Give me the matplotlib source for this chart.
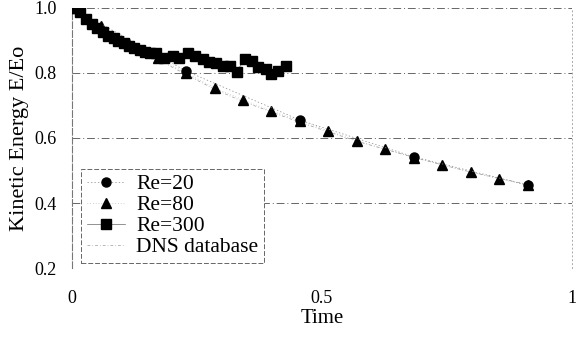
"""kinetic_energy_decay.py"""

import matplotlib
matplotlib.use("Agg")
import matplotlib.pyplot as plt

# Re=300 (squares)
t_re300 = [0.0, 0.016, 0.028, 0.040, 0.050, 0.062, 0.072, 0.084, 0.092, 0.104,
           0.114, 0.124, 0.136, 0.146, 0.156, 0.168, 0.184, 0.202, 0.214, 0.232,
           0.246, 0.261, 0.273, 0.287, 0.301, 0.315, 0.329, 0.345, 0.359, 0.371,
           0.387, 0.399, 0.413, 0.429]
e_re300 = [1.000, 0.988, 0.966, 0.951, 0.938, 0.926, 0.914, 0.908, 0.898, 0.892,
           0.883, 0.877, 0.871, 0.865, 0.862, 0.862, 0.846, 0.852, 0.846, 0.862,
           0.852, 0.843, 0.834, 0.831, 0.822, 0.822, 0.803, 0.843, 0.837, 0.818,
           0.812, 0.797, 0.806, 0.822]

# Re=80 (triangles)
t_re80 = [0.0, 0.057, 0.114, 0.171, 0.228, 0.285, 0.342, 0.399, 0.456, 0.513,
          0.570, 0.627, 0.684, 0.741, 0.798, 0.855, 0.912]
e_re80 = [1.000, 0.945, 0.890, 0.846, 0.800, 0.754, 0.717, 0.683, 0.652, 0.622,
          0.591, 0.566, 0.540, 0.517, 0.495, 0.474, 0.455]

# Re=20 (circles)
t_re20 = [0.0, 0.228, 0.456, 0.684, 0.912]
e_re20 = [1.000, 0.806, 0.655, 0.542, 0.455]

# DNS database
t_dns = [0.0, 0.114, 0.228, 0.285, 0.342, 0.456, 0.570, 0.684, 0.798, 0.912]
e_dns = [1.000, 0.890, 0.795, 0.750, 0.712, 0.648, 0.590, 0.540, 0.495, 0.457]

yticks = [0.2, 0.4, 0.6, 0.8, 1.0]
ytick_labels = ["0.2", "0.4", "0.6", "0.8", "1.0"]
xticks = [0, 0.5, 1]
xtick_labels = ["0", "0.5", "1"]

plt.rcParams["font.family"] = ["Liberation Serif", "DejaVu Serif"]

fig = plt.figure(figsize=(5.77, 3.45), dpi=100)
ax = fig.add_axes([0.125, 0.223, 0.866, 0.754])

# horizontal grid, dash-dot like the scan
for y in yticks:
    ax.axhline(y, color="#666666", lw=0.7, ls=(0, (8, 3, 1, 3)), zorder=0)

ax.plot(t_dns, e_dns, color="#999999", lw=0.5, ls=(0, (4, 3, 1, 3)),
        label="DNS database", zorder=1)
ax.plot(t_re20, e_re20, color="#888888", lw=0.5, ls=(0, (2, 3)),
        marker="o", ms=6.5, mfc="black", mec="black", label="Re=20", zorder=4)
ax.plot(t_re80, e_re80, color="#aaaaaa", lw=0.5, ls=(0, (1, 3)),
        marker="^", ms=6.5, mfc="black", mec="black", label="Re=80", zorder=3)
ax.plot(t_re300, e_re300, color="#666666", lw=0.5, ls="-",
        marker="s", ms=6.5, mfc="black", mec="black", label="Re=300", zorder=5)

ax.set_xlim(0, 1)
ax.set_ylim(0.2, 1.0)
ax.set_yticks(yticks)
ax.set_yticklabels(ytick_labels)
ax.set_xticks(xticks)
ax.set_xticklabels(xtick_labels)
ax.tick_params(axis="both", length=0, labelsize=13)
ax.tick_params(axis="x", pad=16)
ax.tick_params(axis="y", pad=11)

for side in ["top", "bottom"]:
    ax.spines[side].set_visible(False)
ax.spines["left"].set_color("#777777")
ax.spines["left"].set_linewidth(0.8)
ax.spines["left"].set_linestyle((0, (6, 2)))
ax.spines["right"].set_color("#aaaaaa")
ax.spines["right"].set_linewidth(0.7)
ax.spines["right"].set_linestyle((0, (1, 3)))

ax.set_xlabel("Time", fontsize=15, labelpad=1)
ax.set_ylabel("Kinetic Energy E/Eo", fontsize=16, labelpad=4)

handles, labels = ax.get_legend_handles_labels()
order = [1, 2, 3, 0]
leg = ax.legend([handles[i] for i in order], [labels[i] for i in order],
                loc="lower left", bbox_to_anchor=(0.018, 0.02), fontsize=15.5,
                fancybox=False, framealpha=1, edgecolor="#666666",
                handlelength=1.8, handletextpad=0.5, labelspacing=0.05,
                borderpad=0.25, borderaxespad=0)
leg.get_frame().set_linestyle((0, (5, 2)))
leg.get_frame().set_linewidth(0.7)

fig.savefig("out.png", dpi=100)
